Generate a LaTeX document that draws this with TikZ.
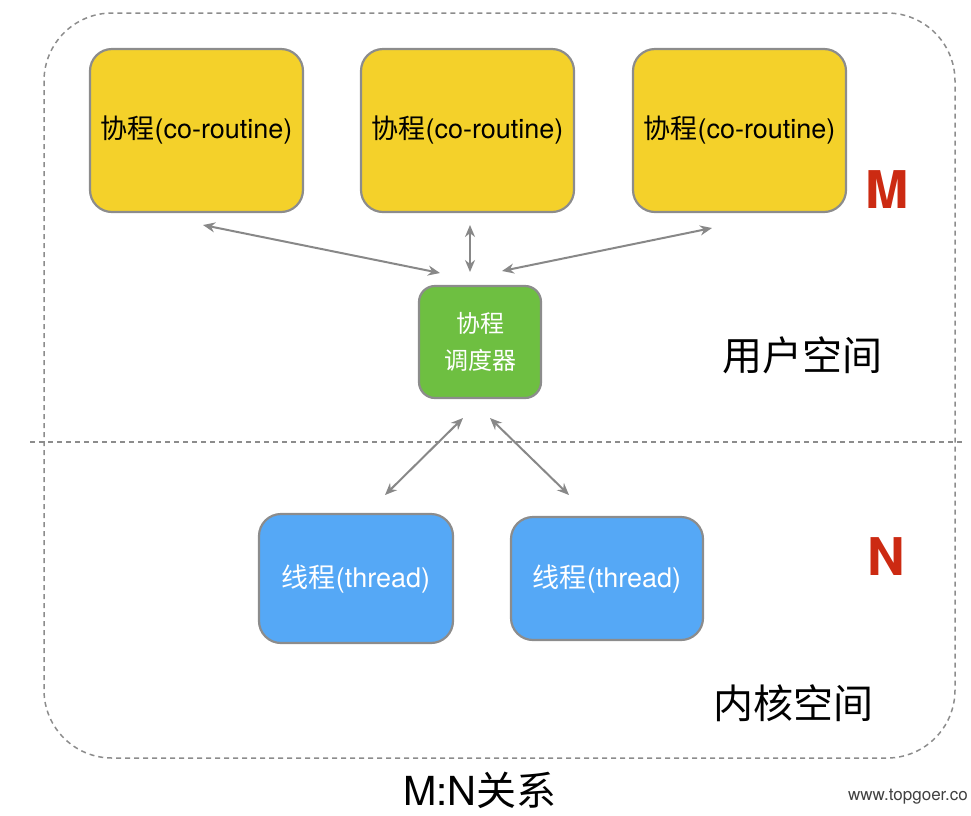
\documentclass[tikz,border=0pt]{standalone}
\usepackage{fontspec}
\setmainfont{TeX Gyre Heros}
\newfontfamily\cjk{Noto Sans CJK SC}
\usetikzlibrary{arrows.meta}
\definecolor{yel}{HTML}{F4D12A}
\definecolor{grn}{HTML}{6EBF41}
\definecolor{blu}{HTML}{55A8F6}
\definecolor{bord}{HTML}{8C8C8C}
\definecolor{arr}{HTML}{888888}
\definecolor{red}{HTML}{CC2A12}
\begin{document}
\begin{tikzpicture}[x=1pt,y=-1pt,
  box/.style={draw=bord,line width=2.2pt,rounded corners=22pt,inner sep=0pt},
  link/.style={draw=arr,line width=2pt,{Stealth[length=12pt,width=10pt]}-{Stealth[length=12pt,width=10pt]}},
  lbl/.style={font=\fontsize{27}{30}\selectfont}]
\useasboundingbox (0,0) rectangle (971,815);
\draw[bord,line width=1.5pt,dash pattern=on 5pt off 4pt,rounded corners=68pt] (44,13) rectangle (955,758);
\draw[bord,line width=1.5pt,dash pattern=on 5pt off 4pt] (30,442) -- (963,442);
\node[box,fill=yel,minimum width=213pt,minimum height=163pt,lbl] (c1) at (196.5,130.5) {{\cjk 协程}(co-routine)};
\node[box,fill=yel,minimum width=213pt,minimum height=163pt,lbl] (c2) at (467.5,130.5) {{\cjk 协程}(co-routine)};
\node[box,fill=yel,minimum width=213pt,minimum height=163pt,lbl] (c3) at (739.5,130.5) {{\cjk 协程}(co-routine)};
\node[box,fill=grn,minimum width=122pt,minimum height=112pt,rounded corners=16pt,text=white,align=center,font=\cjk\fontsize{24}{37}\selectfont] (s) at (480,342) {协程\\调度器};
\node[box,fill=blu,minimum width=194pt,minimum height=129pt,text=white,lbl] (t1) at (356,578.5) {{\cjk 线程}(thread)};
\node[box,fill=blu,minimum width=192pt,minimum height=123pt,text=white,lbl] (t2) at (607,578.5) {{\cjk 线程}(thread)};
\coordinate (a1) at (203,225); \coordinate (b1) at (440,273);
\coordinate (a2) at (470,225); \coordinate (b2) at (470,272);
\coordinate (a3) at (712,228); \coordinate (b3) at (502,271);
\coordinate (a4) at (463,418); \coordinate (b4) at (385,495);
\coordinate (a5) at (490,418); \coordinate (b5) at (569,495);
\draw[link] (a1) -- (b1);
\draw[link] (a2) -- (b2);
\draw[link] (a3) -- (b3);
\draw[link] (a4) -- (b4);
\draw[link] (a5) -- (b5);
\node[text=red,font=\bfseries\fontsize{52}{56}\selectfont] (M) at (887,190) {M};
\node[text=red,font=\bfseries\fontsize{52}{56}\selectfont] (N) at (886,557) {N};
\node[font=\cjk\fontsize{40}{44}\selectfont] (us) at (802,355) {用户空间};
\node[font=\cjk\fontsize{40}{44}\selectfont] (ks) at (793,703) {内核空间};
\node[font=\fontsize{40}{44}\selectfont] (mn) at (480,790) {M:N{\cjk 关系}};
\node[text=black!75,font=\fontsize{17}{20}\selectfont] (w) at (908,797) {www.topgoer.co};
\end{tikzpicture}
\end{document}
